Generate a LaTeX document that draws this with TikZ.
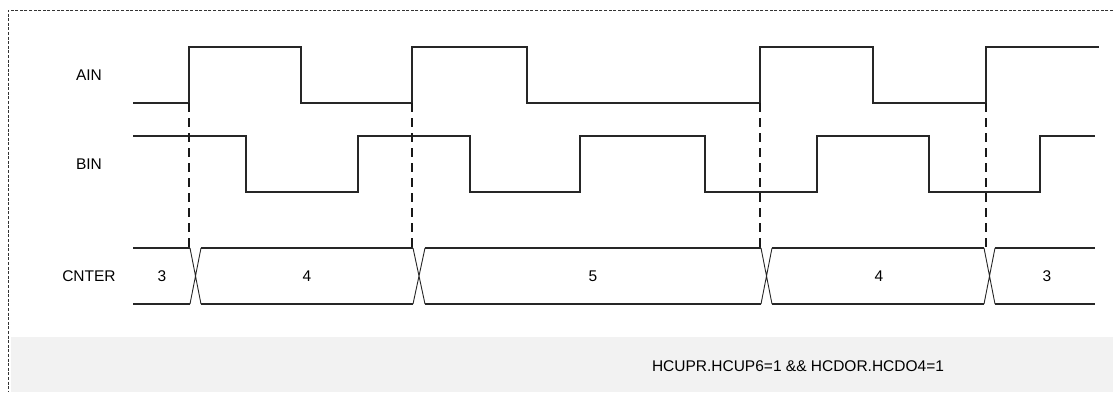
\documentclass[tikz,border=0pt]{standalone}
\usepackage{fontspec}
\setmainfont{Liberation Sans}
\usepackage{tikz}
\usetikzlibrary{positioning}
\tikzset{
  sig/.style   = {draw=black!85, line width=0.6pt},
  xing/.style  = {draw=black!85, line width=0.45pt},
  guide/.style = {draw=black!90, line width=0.6pt, dash pattern=on 4.5pt off 3pt},
  frm/.style   = {draw=black!80, line width=0.45pt, dash pattern=on 1.5pt off 0.8pt},
  lbl/.style   = {font=\fontsize{7.75}{9.3}\selectfont, inner sep=0pt},
}

\begin{document}
\begin{tikzpicture}[x=0.5pt, y=-0.5pt]
  \useasboundingbox (0,0) rectangle (1113,392);
  \def\ahi{47}  \def\alo{103}
  \def\bhi{136} \def\blo{192}
  \def\ctop{248} \def\cbot{304}

  % --- frame and condition band ---
  \fill[black!5] (11,337) rectangle (1113,392);
  \draw[frm] (1113,10) -- (8,10) -- (8,392);

  % --- signal names ---
  \node[lbl] (ain)   at (89,75)  {AIN};
  \node[lbl] (bin)   at (89,164) {BIN};
  \node[lbl] (cnter) at (89,276) {CNTER};

  % --- AIN / BIN ---
  \draw[sig] (133,\alo) -| (189,\ahi) -| (301,\alo) -| (412,\ahi) -| (527,\alo)
             -| (760,\ahi) -| (873,\alo) -| (986,\ahi) -- (1099,\ahi);
  \draw[sig] (133,\bhi) -| (246,\blo) -| (358,\bhi) -| (470,\blo) -| (580,\bhi)
             -| (705,\blo) -| (817,\bhi) -| (929,\blo) -| (1040,\bhi) -- (1095,\bhi);

  % --- counter bus ---
  \foreach \a/\b in {133/190, 201/413, 425/761, 772/984, 995/1095}
    \draw[sig] (\a,\ctop) -- (\b,\ctop) (\a,\cbot) -- (\b,\cbot);
  \foreach \a/\b in {190/201, 413/425, 761/772, 984/995}
    \draw[xing] (\a,\ctop) -- (\b,\cbot) (\a,\cbot) -- (\b,\ctop);

  \node[lbl] (v1) at (162,276)  {3};
  \node[lbl] (v2) at (307,276)  {4};
  \node[lbl] (v3) at (593,276)  {5};
  \node[lbl] (v4) at (879,276)  {4};
  \node[lbl] (v5) at (1047,276) {3};

  % --- AIN rising edges ---
  \foreach \x in {189,412,760,986}
    \draw[guide] (\x,\alo) -- (\x,\ctop);

  \node[lbl] (cond) at (798,366) {HCUPR.HCUP6=1 \&\& HCDOR.HCDO4=1};
\end{tikzpicture}
\end{document}
